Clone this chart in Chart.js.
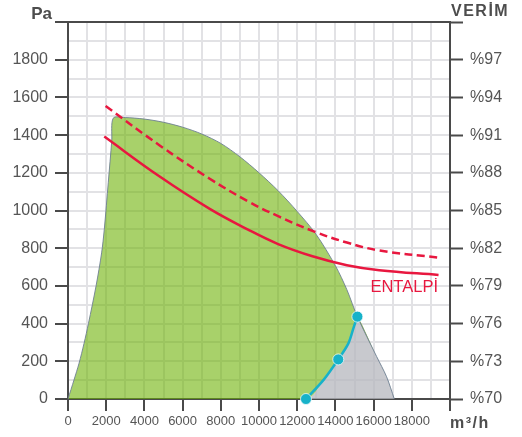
<!DOCTYPE html>
<html>
<head>
<meta charset="utf-8">
<script src="https://cdn.jsdelivr.net/npm/chart.js@4/dist/chart.umd.min.js"></script>
<style>
  html, body { margin: 0; padding: 0; background: #fff; }
  canvas { display: block; }
</style>
</head>
<body>
<canvas id="myChart" width="522" height="437"></canvas>
<script>
// fan operating area (outer envelope), m3/h vs Pa
const envelopeFlow = [0, 310, 580, 840, 1070, 1470, 1760, 1900, 2110, 2290, 2370, 3000, 4000, 5000, 6000, 7000, 8000, 9000, 10000, 11000, 12000, 13000, 14000, 14600, 15150, 16160, 16680, 17085];
const envelopePa   = [0, 100, 190, 295, 400, 600, 775, 900, 1150, 1370, 1490, 1493, 1485, 1468, 1442, 1406, 1356, 1285, 1200, 1105, 995, 872, 707, 580, 437, 225, 118, 0];

// blue limit curve and its marked points
const limitFlow = [12460, 13370, 14150, 14680, 14970, 15150];
const limitPa   = [0, 100, 210, 295, 384, 437];
const markerFlow = [12460, 14150, 15150];
const markerPa   = [0, 210, 437];

// efficiency curves (VERİM, %)
const effFlow      = [1900, 4800, 7400, 9400, 11000, 12800, 14600, 16300, 19400];
const enthalpyEff  = [90.88, 87.7, 85.15, 83.5, 82.33, 81.36, 80.65, 80.25, 79.87];
const sensibleFlow = [1970, 4800, 7400, 9400, 11000, 12900, 14600, 16300, 19400];
const sensibleEff  = [93.31, 90.18, 87.55, 85.75, 84.55, 83.32, 82.45, 81.82, 81.25];

// axis ticks
const paTicks = [0, 200, 400, 600, 800, 1000, 1200, 1400, 1600, 1800];
const effTicks = [70, 73, 76, 79, 82, 85, 88, 91, 94, 97];
const flowTicks = [0, 2000, 4000, 6000, 8000, 10000, 12000, 14000, 16000, 18000];

const pts = (xs, ys) => xs.map((x, i) => ({ x: x, y: ys[i] }));

// gray area: along the baseline, up the blue curve, down the envelope tail
const tailStart = envelopeFlow.indexOf(limitFlow[limitFlow.length - 1]);
const grayPts = [{ x: 0, y: 0 }]
  .concat(pts(limitFlow, limitPa))
  .concat(pts(envelopeFlow.slice(tailStart + 1), envelopePa.slice(tailStart + 1)));

const AXIS = "#4a4a4a";
const GRID = "#e2e2e5";
const RED = "#e8173f";
const TEAL = "#17b2c9";

Chart.defaults.font.family = "'Liberation Sans', Arial, sans-serif";
Chart.defaults.color = "#555";

const labels = {
  id: "labels",
  afterDraw(chart) {
    const { ctx, chartArea, scales } = chart;
    ctx.save();
    ctx.strokeStyle = AXIS;
    ctx.lineWidth = 2;
    ctx.beginPath();
    ctx.moveTo(chartArea.left, chartArea.top);
    ctx.lineTo(chartArea.right, chartArea.top);
    ctx.stroke();

    ctx.fillStyle = "#4d4d4d";
    ctx.textBaseline = "alphabetic";
    ctx.font = "bold 17px 'Liberation Sans', Arial, sans-serif";
    ctx.textAlign = "right";
    ctx.fillText("Pa", 52, 19);

    ctx.font = "bold 16px 'Liberation Sans', Arial, sans-serif";
    ctx.textAlign = "left";
    ctx.letterSpacing = "1.5px";
    ctx.fillText("VERİM", 451, 16);
    ctx.fillText("m³/h", 450, 428);
    ctx.letterSpacing = "0px";

    ctx.fillStyle = RED;
    ctx.font = "16.5px 'Liberation Sans', Arial, sans-serif";
    ctx.textAlign = "right";
    ctx.fillText("ENTALPİ", scales.x.getPixelForValue(19370), scales.y.getPixelForValue(565));
    ctx.restore();
  }
};

const data = {
  datasets: [
    {
      label: "area",
      data: pts(envelopeFlow, envelopePa),
      borderColor: "rgba(110,128,145,0.9)",
      borderWidth: 1,
      backgroundColor: "rgba(110,178,7,0.6)",
      fill: "+1",
      tension: 0.3,
      pointRadius: 0,
      order: 4
    },
    {
      label: "gray",
      data: grayPts,
      borderColor: "transparent",
      borderWidth: 1,
      backgroundColor: "rgba(182,183,190,0.75)",
      fill: "origin",
      tension: 0.3,
      pointRadius: 0,
      order: 5
    },
    {
      label: "sensible",
      data: pts(sensibleFlow, sensibleEff),
      yAxisID: "y2",
      borderColor: RED,
      borderWidth: 2.5,
      borderDash: [8, 4.5],
      tension: 0.4,
      pointRadius: 0,
      fill: false,
      order: 2
    },
    {
      label: "enthalpy",
      data: pts(effFlow, enthalpyEff),
      yAxisID: "y2",
      borderColor: RED,
      borderWidth: 2.5,
      tension: 0.4,
      pointRadius: 0,
      fill: false,
      order: 2
    },
    {
      label: "limit",
      data: pts(limitFlow, limitPa),
      borderColor: TEAL,
      borderWidth: 2.5,
      tension: 0.3,
      pointRadius: 0,
      fill: false,
      clip: false,
      order: 1
    },
    {
      label: "markers",
      data: pts(markerFlow, markerPa),
      showLine: false,
      pointRadius: 5.5,
      pointBackgroundColor: TEAL,
      pointBorderColor: "rgba(255,255,255,0.7)",
      pointBorderWidth: 1,
      clip: false,
      order: 0
    }
  ]
};

const config = {
  type: "line",
  data: data,
  plugins: [labels],
  options: {
    responsive: false,
    animation: false,
    layout: { padding: { top: 22, left: 0, right: 0, bottom: 0 } },
    plugins: { legend: { display: false }, tooltip: { enabled: false } },
    scales: {
      x: {
        type: "linear",
        min: 0,
        max: 20000,
        afterFit(s) { s.height = 38; },
        ticks: {
          stepSize: 1000,
          autoSkip: false,
          maxRotation: 0,
          padding: 3,
          font: { size: 13 },
          color: "#555",
          callback: (v) => (flowTicks.includes(v) ? String(v) : "")
        },
        grid: {
          color: GRID,
          lineWidth: 2,
          tickLength: 12,
          tickWidth: 2,
          tickColor: (c) => (c.tick && c.tick.value % 2000 === 0 ? AXIS : "transparent")
        },
        border: { color: AXIS, width: 2 }
      },
      y: {
        position: "left",
        min: 0,
        max: 2000,
        afterFit(s) { s.width = 68; },
        ticks: {
          stepSize: 100,
          autoSkip: false,
          padding: 7,
          font: { size: 16 },
          color: "#555",
          callback: (v) => (paTicks.includes(v) ? String(v) : "")
        },
        grid: {
          color: GRID,
          lineWidth: 2,
          tickLength: 13,
          tickWidth: 2,
          tickColor: (c) => (c.tick && c.tick.value % 200 === 0 ? AXIS : "transparent")
        },
        border: { color: AXIS, width: 2 }
      },
      y2: {
        position: "right",
        min: 70,
        max: 100,
        afterFit(s) { s.width = 72; },
        ticks: {
          stepSize: 3,
          autoSkip: false,
          padding: 7,
          font: { size: 16 },
          color: "#555",
          callback: (v) => (effTicks.includes(v) ? "%" + v : "")
        },
        grid: {
          drawOnChartArea: false,
          tickLength: 13,
          tickWidth: 2,
          tickColor: AXIS
        },
        border: { color: AXIS, width: 2 }
      }
    }
  }
};

const ctx = document.getElementById("myChart");
const myChart = new Chart(ctx, config);
</script>
</body>
</html>
